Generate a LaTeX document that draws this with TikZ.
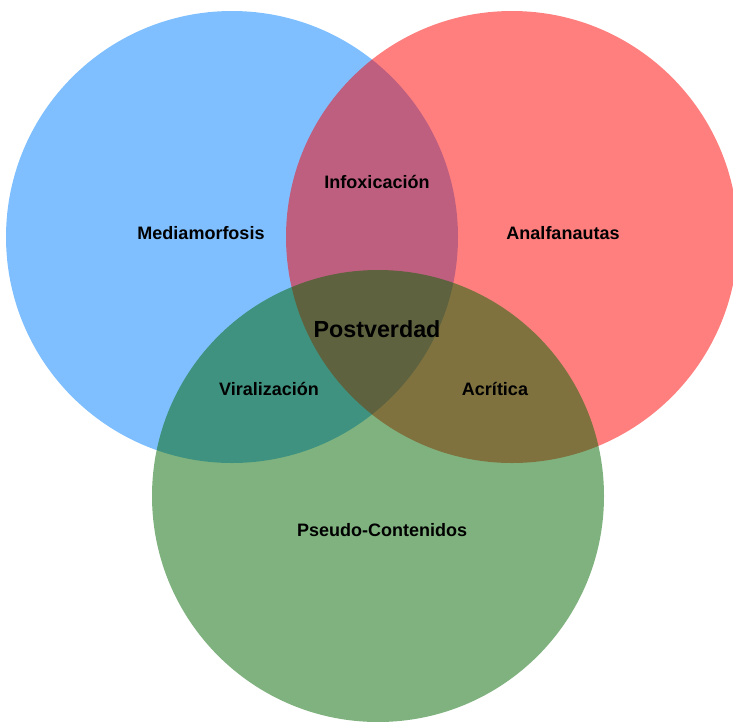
\documentclass[tikz,border=0pt]{standalone}
\usepackage{fontspec}
\setmainfont{Liberation Sans}
\usetikzlibrary{positioning}

\definecolor{vennblue}{RGB}{0,128,255}
\definecolor{vennred}{RGB}{255,0,0}
\definecolor{venngreen}{RGB}{0,102,0}

\begin{document}
\begin{tikzpicture}[x=1pt,y=-1pt,
    venn/.style={circle,inner sep=0pt,minimum size=452pt,fill opacity=0.5},
    setlabel/.style={font=\bfseries\fontsize{18}{21}\selectfont},
    corelabel/.style={font=\bfseries\fontsize{23.3}{26}\selectfont}]
    \useasboundingbox (0,0) rectangle (733,721);
    \node[venn,fill=vennblue]  (M) at (232,237) {};
    \node[venn,fill=vennred]   (A) at (512,237) {};
    \node[venn,fill=venngreen] (P) at (378,496) {};
    \node[setlabel] (Mlab) at (201,233) {Mediamorfosis};
    \node[setlabel] (Alab) at (563,233) {Analfanautas};
    \node[setlabel] (Plab) at (382,530) {Pseudo-Contenidos};
    \node[setlabel] (MA) at (377,182) {Infoxicación};
    \node[setlabel] (MP) at (269,389) {Viralización};
    \node[setlabel] (AP) at (495,389) {Acrítica};
    \node[corelabel] (MAP) at (377,329) {Postverdad};
\end{tikzpicture}
\end{document}
